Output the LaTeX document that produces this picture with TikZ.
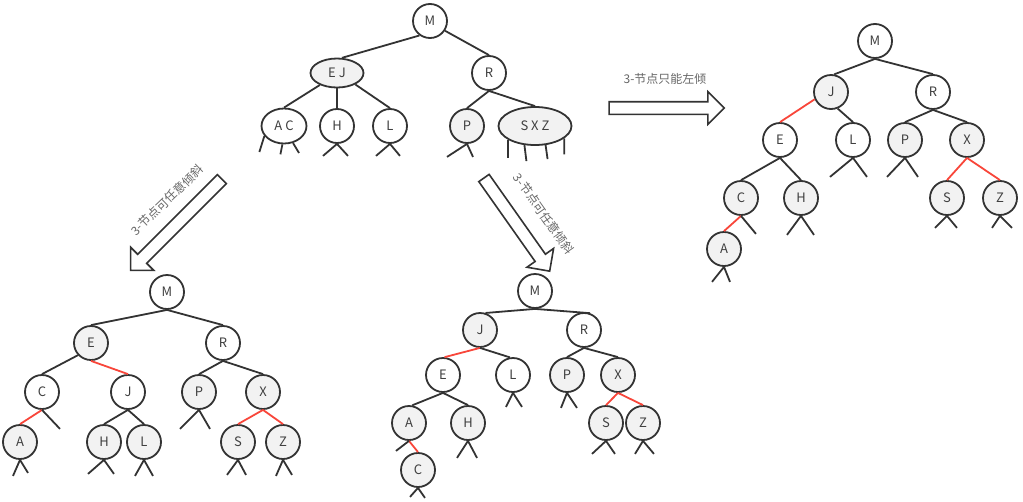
\documentclass[tikz,border=0pt]{standalone}
\usepackage{fontspec}
\usetikzlibrary{shapes.geometric,shapes.arrows}
\newfontfamily\cjk{Noto Sans CJK SC}
\definecolor{treeLine}{HTML}{333333}
\definecolor{treeRed}{HTML}{F8463A}
\definecolor{treeFill}{HTML}{F2F2F2}
\definecolor{treeText}{HTML}{404040}
\definecolor{noteText}{HTML}{666666}

\begin{document}
\begin{tikzpicture}[x=1pt, y=-1pt,
      knode/.style={circle, draw=treeLine, line width=1.8pt, fill=white, minimum size=34pt,
        inner sep=0pt, font=\cjk\fontsize{13}{15}\selectfont, text=treeText},
      gnode/.style={knode, fill=treeFill},
      enode/.style={ellipse, draw=treeLine, line width=1.8pt, fill=white, inner sep=0pt,
        font=\cjk\fontsize{13}{15}\selectfont, text=treeText},
      link/.style={line width=1.8pt, treeLine},
      redlink/.style={line width=1.8pt, treeRed},
      bigarrow/.style={single arrow, draw=treeLine, line width=1.6pt, fill=white,
        inner xsep=0pt, inner ysep=5.5pt, single arrow head extend=10pt},
      note/.style={font=\cjk\fontsize{12}{14}\selectfont, text=noteText, inner sep=0pt}]
    \useasboundingbox (0,0) rectangle (1023,501);

    \node[knode] (tM) at (430,21) {M};
    \node[enode, fill=treeFill, minimum width=53pt, minimum height=29pt] (tEJ) at (337,73) {E J};
    \node[knode] (tR) at (489,73) {R};
    \node[enode, minimum width=45pt, minimum height=35pt] (tAC) at (284,126) {A C};
    \node[knode] (tH) at (337,126) {H};
    \node[knode] (tL) at (390,126) {L};
    \node[gnode] (tP) at (467,126) {P};
    \node[enode, fill=treeFill, minimum width=73pt, minimum height=38pt] (tSXZ) at (535,126) {S X Z};

    \draw[link] (tM.234) -- (tEJ.72);
    \draw[link] (tM.327) -- (tR.north);
    \draw[link] (tEJ.215) -- (tAC.north);
    \draw[link] (tEJ.south) -- (tH.north);
    \draw[link] (tEJ.328) -- (tL.north);
    \draw[link] (tR.south) -- (tP.north);
    \draw[link] (tR.south) -- (tSXZ.north);
    \draw[link] (tAC.207) -- ++(-5,16) (tAC.265) -- ++(-2,10) (tAC.298) -- ++(6,10);
    \draw[link] (tH.south) -- ++(-14,12) (tH.south) -- ++(11,12);
    \draw[link] (tL.south) -- ++(-14,12) (tL.south) -- ++(10,12);
    \draw[link] (tP.south) -- ++(-20,13) (tP.south) -- ++(6,13);
    \draw[link] (tSXZ.207) -- ++(0,18) (tSXZ.241) -- ++(2,16) (tSXZ.299) -- ++(2,14) (tSXZ.337) -- ++(0,16);

    \node[bigarrow, minimum height=129pt, rotate=225] (toLeft) at (178.5,222.5) {};
    \node[bigarrow, minimum height=114pt, rotate=-54.8] (toMid) at (515,222) {};
    \node[bigarrow, minimum height=115pt] (toRight) at (663.5,108) {};
    \node[note, rotate=44] (noteLeft) at (167,200) {3-节点可任意倾斜};
    \node[note, rotate=-54.8] (noteMid) at (544,214) {3-节点可任意倾斜};
    \node[note] (noteRight) at (665,79) {3-节点只能左倾};

    \node[knode] (lM) at (167,292) {M};
    \node[gnode] (lE) at (91,343) {E};
    \node[knode] (lR) at (223,343) {R};
    \node[knode] (lC) at (42,392) {C};
    \node[knode] (lJ) at (128,392) {J};
    \node[gnode] (lP) at (199,392) {P};
    \node[gnode] (lX) at (263,392) {X};
    \node[gnode] (lA) at (20,442) {A};
    \node[gnode] (lH) at (104,442) {H};
    \node[gnode] (lL) at (144,442) {L};
    \node[gnode] (lS) at (238,442) {S};
    \node[gnode] (lZ) at (283,442) {Z};

    \draw[link] (lM.south) -- (lE.north);
    \draw[link] (lM.south) -- (lR.north);
    \draw[link] (lE.223) -- (lC.north);
    \draw[redlink] (lE.south) -- (lJ.north);
    \draw[redlink] (lC.south) -- (lA.north);
    \draw[link] (lC.south) -- ++(18,19);
    \draw[link] (lJ.south) -- (lH.north);
    \draw[link] (lJ.south) -- (lL.north);
    \draw[link] (lR.south) -- (lP.north);
    \draw[link] (lR.south) -- (lX.north);
    \draw[redlink] (lX.south) -- (lS.north);
    \draw[redlink] (lX.south) -- (lZ.north);
    \draw[link] (lP.south) -- ++(-19,19) (lP.south) -- ++(11,19);
    \draw[link] (lA.south) -- ++(-7,16) (lA.south) -- ++(8,13);
    \draw[link] (lH.south) -- ++(-16,14) (lH.south) -- ++(10,14);
    \draw[link] (lL.south) -- ++(-9,16) (lL.south) -- ++(9,16);
    \draw[link] (lS.south) -- ++(-11,15) (lS.south) -- ++(8,15);
    \draw[link] (lZ.south) -- ++(-7,16) (lZ.south) -- ++(9,15);

    \node[knode] (cM) at (535,291) {M};
    \node[gnode] (cJ) at (480,330) {J};
    \node[knode] (cR) at (584,330) {R};
    \node[knode] (cE) at (443,375) {E};
    \node[knode] (cL) at (513,375) {L};
    \node[gnode] (cP) at (567,375) {P};
    \node[gnode] (cX) at (618,375) {X};
    \node[gnode] (cA) at (409,423) {A};
    \node[gnode] (cH) at (468,423) {H};
    \node[gnode] (cS) at (606,423) {S};
    \node[gnode] (cZ) at (643,423) {Z};
    \node[gnode] (cC) at (418,470) {C};

    \draw[link] (cM.south) -- (cJ.72);
    \draw[link] (cM.south) -- (cR.70);
    \draw[redlink] (cJ.south) -- (cE.85);
    \draw[link] (cJ.south) -- (cL.100);
    \draw[link] (cR.south) -- (cP.north);
    \draw[link] (cR.south) -- (cX.north);
    \draw[link] (cE.south) -- (cA.80);
    \draw[link] (cE.south) -- (cH.north);
    \draw[redlink] (cA.south) -- (cC.north);
    \draw[link] (cA.south) -- ++(-13,10);
    \draw[redlink] (cX.south) -- (cS.north);
    \draw[redlink] (cX.south) -- (cZ.north);
    \draw[link] (cL.south) -- ++(-7,14) (cL.south) -- ++(9,14);
    \draw[link] (cP.south) -- ++(-6,15) (cP.south) -- ++(10,15);
    \draw[link] (cH.south) -- ++(-11,17) (cH.south) -- ++(9,17);
    \draw[link] (cS.south) -- ++(-14,13) (cS.south) -- ++(9,13);
    \draw[link] (cZ.south) -- ++(-8,13) (cZ.south) -- ++(11,13);
    \draw[link] (cC.south) -- ++(-8,9) (cC.south) -- ++(7,10);

    \node[knode] (rM) at (875,41) {M};
    \node[gnode] (rJ) at (831,92) {J};
    \node[knode] (rR) at (933,92) {R};
    \node[knode] (rE) at (780,140) {E};
    \node[knode] (rL) at (853,140) {L};
    \node[gnode] (rP) at (905,140) {P};
    \node[gnode] (rX) at (967,140) {X};
    \node[gnode] (rC) at (741,198) {C};
    \node[gnode] (rH) at (801,198) {H};
    \node[gnode] (rS) at (947,198) {S};
    \node[gnode] (rZ) at (1000,198) {Z};
    \node[gnode] (rA) at (724,249) {A};

    \draw[link] (rM.south) -- (rJ.80);
    \draw[link] (rM.south) -- (rR.north);
    \draw[redlink] (rJ.204) -- (rE.north);
    \draw[link] (rJ.292) -- (rL.north);
    \draw[link] (rR.south) -- (rP.north);
    \draw[link] (rR.south) -- (rX.north);
    \draw[link] (rE.south) -- (rC.north);
    \draw[link] (rE.south) -- (rH.north);
    \draw[redlink] (rC.south) -- (rA.north);
    \draw[link] (rC.south) -- ++(15,18);
    \draw[redlink] (rX.south) -- (rS.north);
    \draw[redlink] (rX.south) -- (rZ.north);
    \draw[link] (rL.south) -- ++(-23,19) (rL.south) -- ++(14,19);
    \draw[link] (rP.south) -- ++(-18,19) (rP.south) -- ++(13,19);
    \draw[link] (rH.south) -- ++(-14,19) (rH.south) -- ++(13,19);
    \draw[link] (rS.south) -- ++(-12,12) (rS.south) -- ++(10,12);
    \draw[link] (rZ.south) -- ++(-8,12) (rZ.south) -- ++(12,12);
    \draw[link] (rA.south) -- ++(-12,15) (rA.south) -- ++(6,15);
  \end{tikzpicture}
\end{document}
